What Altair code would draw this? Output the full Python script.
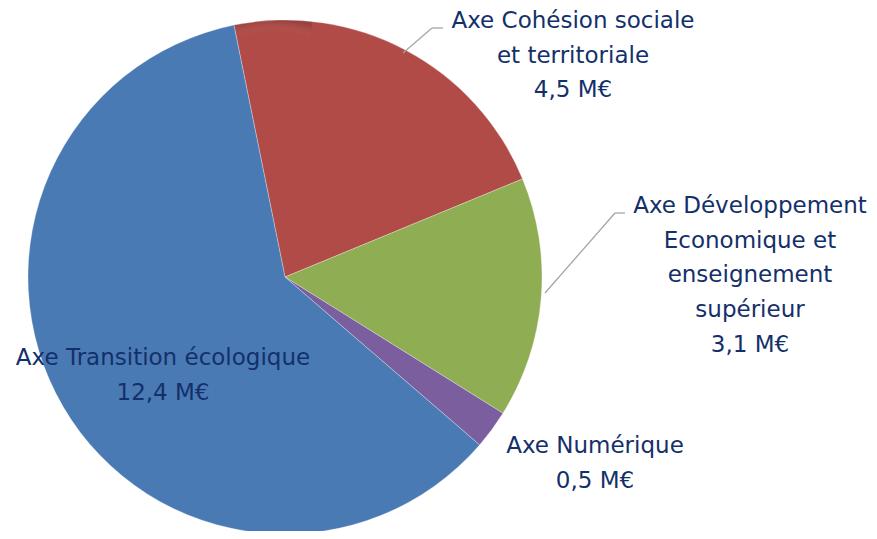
import math
import altair as alt
import pandas as pd

# ---- data ----
categories = [
    "Axe Cohésion sociale et territoriale",
    "Axe Développement Economique et enseignement supérieur",
    "Axe Numérique",
    "Axe Transition écologique",
]
values = [4.5, 3.1, 0.5, 12.4]
value_labels = ["4,5 M€", "3,1 M€", "0,5 M€", "12,4 M€"]
label_lines = [
    ["Axe Cohésion sociale", "et territoriale"],
    ["Axe Développement", "Economique et", "enseignement", "supérieur"],
    ["Axe Numérique"],
    ["Axe Transition écologique"],
]
colors = ["#B04B47", "#8FAD52", "#7A5E9E", "#4A7AB4"]

df = pd.DataFrame({
    "categorie": categories,
    "valeur": values,
    "ordre": list(range(len(categories))),
    "label": ["\n".join(l + [v]) for l, v in zip(label_lines, value_labels)],
})

TEXT_COLOR = "#14306A"
FONT = "DejaVu Sans"
CX, CY, R = 277, 269, 257
start = -0.20

base = alt.Chart(df)

pie = base.mark_arc(outerRadius=R, stroke="#ffffff", strokeWidth=0.3).encode(
    theta=alt.Theta("valeur:Q", stack=True,
                    scale=alt.Scale(range=[start, start + 2 * math.pi])),
    order=alt.Order("ordre:Q", sort="ascending"),
    color=alt.Color("categorie:N", legend=None,
                    scale=alt.Scale(domain=categories, range=colors)),
    x=alt.value(CX),
    y=alt.value(CY),
)

# soft shading overlay
shade = alt.Chart(pd.DataFrame({"v": [1]})).mark_arc(
    outerRadius=R,
    fill=alt.Gradient(
        gradient="radial",
        stops=[
            alt.GradientStop(color="rgba(255,255,255,0)", offset=0),
            alt.GradientStop(color="rgba(255,255,255,0)", offset=0.9),
            alt.GradientStop(color="rgba(0,0,0,0.12)", offset=1),
        ],
    ),
).encode(theta=alt.Theta("v:Q"), x=alt.value(CX), y=alt.value(CY))

# label anchor: centre x, first-line y
label_pos = {
    categories[0]: (565, 13),
    categories[1]: (742, 198),
    categories[2]: (587, 438),
    categories[3]: (155, 350),
}

texts = []
for cat, (tx, ty) in label_pos.items():
    texts.append(
        base.transform_filter(alt.datum.categorie == cat)
        .mark_text(font=FONT, fontSize=23, color=TEXT_COLOR, lineBreak="\n",
                   lineHeight=34.7, align="center", baseline="middle")
        .encode(text="label:N", x=alt.value(tx), y=alt.value(ty))
    )

rule_df = pd.DataFrame({"k": [0]})
def seg(x1, y1, x2, y2):
    return alt.Chart(rule_df).mark_rule(color="#A6A6A6", strokeWidth=1.3).encode(
        x=alt.value(x1), y=alt.value(y1), x2=alt.value(x2), y2=alt.value(y2))

leaders = [
    seg(395, 45, 424, 20), seg(424, 20, 435, 20),
    seg(537, 285, 607, 205), seg(607, 205, 617, 205),
]

chart = alt.layer(pie, shade, *leaders, *texts).properties(
    width=861, height=523, autosize=alt.AutoSizeParams(type="none"), padding=0
).configure_view(stroke=None)

chart.save("out.html", embed_options={"renderer": "svg", "actions": False})
